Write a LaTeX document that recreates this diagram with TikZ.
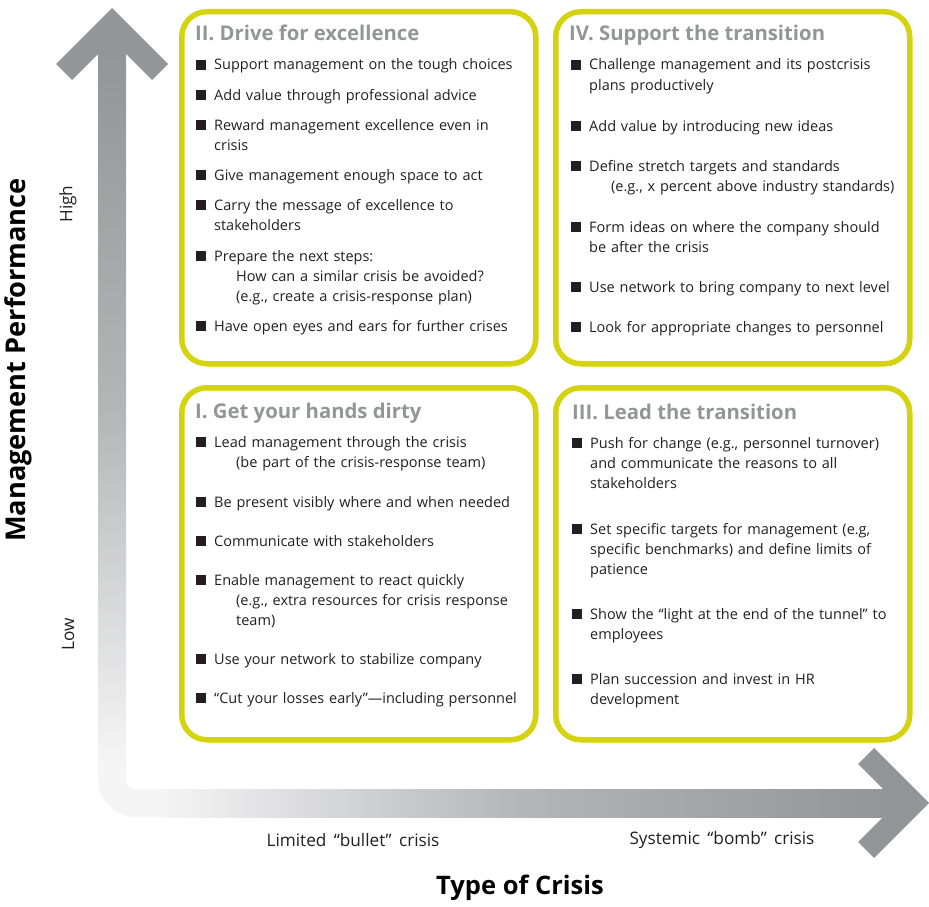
\documentclass[tikz,border=0pt]{standalone}
\usepackage{fontspec}
\setmainfont{Open Sans}
\usetikzlibrary{positioning}
\definecolor{boxlime}{HTML}{D5D30F}
\definecolor{headgray}{HTML}{939598}
\definecolor{axisgray}{HTML}{939598}
\definecolor{axismid}{HTML}{B4B5B7}
\definecolor{axislight}{HTML}{F5F5F6}
\definecolor{inkdark}{HTML}{231F20}

\begin{document}
\begin{tikzpicture}[x=1pt, y=-1pt,
  quad/.style = {draw=boxlime, line width=5.5pt, rounded corners=25pt,
    minimum width=354pt, minimum height=352pt, anchor=north west, inner sep=0pt},
  qtitle/.style = {anchor=base west, inner sep=0pt, text=headgray,
    font=\fontsize{20.3}{22}\selectfont\bfseries},
  itm/.style = {anchor=base west, inner sep=0pt, text=inkdark, text width=340pt,
    align=left, font=\fontsize{14.5}{20.3}\selectfont},
  axlab/.style = {inner sep=0pt, text=inkdark, font=\fontsize{17.2}{20}\selectfont},
  axtitle/.style = {inner sep=0pt, text=black, font=\fontsize{25.5}{28}\selectfont\bfseries}]
  \useasboundingbox (0,0) rectangle (929,907);

  % axes
  \shade[top color=axisgray, bottom color=axislight, middle color=axismid]
    (98,55) rectangle (126,761);
  \shade[left color=axislight, right color=axisgray, middle color=axismid]
    (159,789) rectangle (884,817);
  \fill[axislight] (98,760) -- (98,779) arc[start angle=180, end angle=90, radius=38]
    -- (160,817) -- (160,789) -- (136,789) arc[start angle=90, end angle=180, radius=10]
    -- (126,760) -- cycle;
  \fill[axisgray] (112,8) -- (168,64) -- (152,80) -- (126,54) -- (98,54) -- (72,80)
    -- (56,64) -- cycle;
  \fill[axisgray] (929,803) -- (874,748) -- (858,764) -- (883,789) -- (883,817)
    -- (858,842) -- (874,858) -- cycle;

  % quadrants
  \node[quad] (q2) at (179,9) {};
  \node[quad] (q4) at (553,9) {};
  \node[quad] (q1) at (179,385) {};
  \node[quad] (q3) at (553,385) {};

  \node[qtitle] (t2) at (195,41) {II. Drive for excellence};
  \node[qtitle] (t4) at (569,41) {IV. Support the transition};
  \node[qtitle] (t1) at (195,418) {I. Get your hands dirty};
  \node[qtitle] (t3) at (572,419) {III. Lead the transition};

  \node[itm] (i2a) at (214,70) {Support management on the tough choices};
  \node[itm] (i2b) at (214,100) {Add value through professional advice};
  \node[itm] (i2c) at (214,130) {Reward management excellence even in\\crisis};
  \node[itm] (i2d) at (214,180) {Give management enough space to act};
  \node[itm] (i2e) at (214,210) {Carry the message of excellence to\\stakeholders};
  \node[itm] (i2f) at (214,261) {Prepare the next steps:\\\hspace*{22pt}How can a similar crisis be avoided?\\\hspace*{22pt}(e.g., create a crisis-response plan)};
  \node[itm] (i2g) at (214,331) {Have open eyes and ears for further crises};

  \node[itm] (i4a) at (589,70) {Challenge management and its postcrisis\\plans productively};
  \node[itm] (i4b) at (589,131) {Add value by introducing new ideas};
  \node[itm] (i4c) at (589,171) {Define stretch targets and standards\\\hspace*{22pt}(e.g., x percent above industry standards)};
  \node[itm] (i4d) at (589,232) {Form ideas on where the company should\\be after the crisis};
  \node[itm] (i4e) at (589,292) {Use network to bring company to next level};
  \node[itm] (i4f) at (589,332) {Look for appropriate changes to personnel};

  \node[itm] (i1a) at (214,447) {Lead management through the crisis\\\hspace*{22pt}(be part of the crisis-response team)};
  \node[itm] (i1b) at (214,507) {Be present visibly where and when needed};
  \node[itm] (i1c) at (214,546) {Communicate with stakeholders};
  \node[itm] (i1d) at (214,585) {Enable management to react quickly\\\hspace*{22pt}(e.g., extra resources for crisis response\\\hspace*{22pt}team)};
  \node[itm] (i1e) at (214,664) {Use your network to stabilize company};
  \node[itm] (i1f) at (214,703) {“Cut your losses early”—including personnel};

  \node[itm] (i3a) at (590,448) {Push for change (e.g., personnel turnover)\\and communicate the reasons to all\\stakeholders};
  \node[itm] (i3b) at (590,534) {Set specific targets for management (e.g,\\specific benchmarks) and define limits of\\patience};
  \node[itm] (i3c) at (590,619) {Show the “light at the end of the tunnel” to\\employees};
  \node[itm] (i3d) at (590,684) {Plan succession and invest in HR\\development};

  % bullets
  \foreach \n in {i2a,i2b,i2c,i2d,i2e,i2f,i2g,i4a,i4b,i4c,i4d,i4e,i4f,
                  i1a,i1b,i1c,i1d,i1e,i1f,i3a,i3b,i3c,i3d}
    \fill[inkdark] ([xshift=-18pt]\n.base west) rectangle ++(10,-10);

  % axis labels
  \node[axtitle, rotate=90, font=\fontsize{27.2}{30}\selectfont\bfseries] (mp) at (18,360) {Management Performance};
  \node[axlab, rotate=90] (hi) at (68,204) {High};
  \node[axlab, rotate=90] (lo) at (68,634) {Low};
  \node[axlab] (lim) at (353,840) {Limited \,“bullet”\, crisis};
  \node[axlab] (sys) at (722,840) {Systemic \,“bomb”\, crisis};
  \node[axtitle] (toc) at (520,888) {Type of Crisis};
\end{tikzpicture}
\end{document}
